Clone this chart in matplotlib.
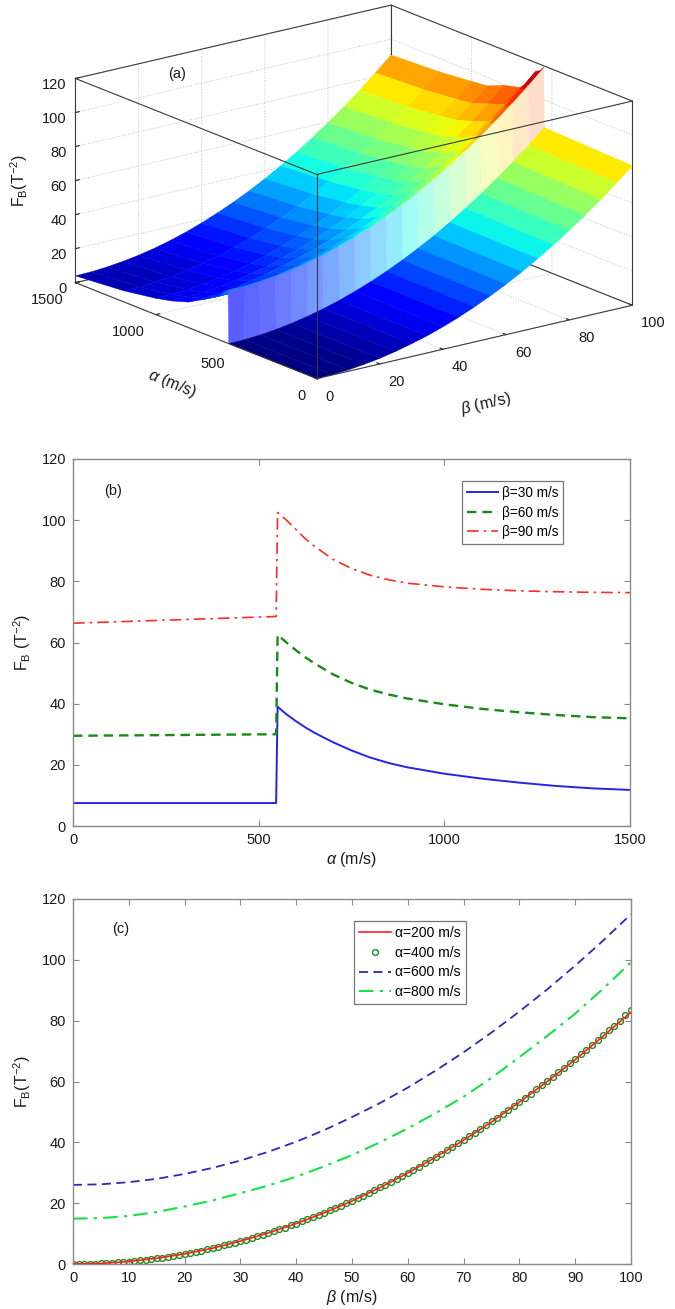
import numpy as np
import matplotlib
matplotlib.use('Agg')
import matplotlib.pyplot as plt
from matplotlib import cm
from mpl_toolkits.mplot3d import proj3d

# ---------------- data ----------------
# surface (a): rows = alpha (m/s), columns = beta (m/s)
surf_beta = [0, 5, 10, 15, 20, 25, 30, 35, 40, 45, 50, 55, 60, 65, 70, 75, 80, 85, 90, 95, 100]
surf_alpha = [0, 547, 551, 575, 600, 650, 700, 800, 900, 1000, 1200, 1500]
F_a0 = [0, 0.2, 0.8, 1.9, 3.3, 5.2, 7.5, 10.1, 13.2, 16.7, 20.6, 24.9, 29.6, 34.7, 40.3, 46.2, 52.6, 59.3, 66.4, 74.0, 82.0]
F_a547 = [0, 0.2, 0.8, 1.9, 3.4, 5.3, 7.6, 10.3, 13.5, 17.0, 21.0, 25.4, 30.2, 35.4, 41.1, 47.2, 53.7, 60.6, 68.0, 75.7, 83.9]
F_a551 = [31.2, 31.4, 32.1, 33.2, 34.7, 36.7, 39.1, 42.0, 45.3, 49.0, 53.2, 57.8, 62.9, 68.4, 74.3, 80.7, 87.5, 94.8, 102.5, 110.6, 119.2]
F_a575 = [29.2, 29.4, 30.1, 31.2, 32.7, 34.6, 37.0, 39.9, 43.1, 46.8, 51.0, 55.5, 60.5, 66.0, 71.8, 78.1, 84.9, 92.1, 99.7, 107.7, 116.2]
F_a600 = [26.0, 26.2, 26.9, 28.0, 29.6, 31.6, 34.0, 36.9, 40.2, 44.0, 48.3, 52.9, 58.0, 63.6, 69.6, 76.1, 83.0, 90.3, 98.1, 106.3, 115.0]
F_a650 = [23.0, 23.2, 23.8, 24.9, 26.3, 28.2, 30.5, 33.2, 36.3, 39.9, 43.8, 48.2, 53.0, 58.2, 63.8, 69.9, 76.3, 83.2, 90.5, 98.2, 106.3]
F_a700 = [20.2, 20.4, 21.0, 22.0, 23.5, 25.3, 27.5, 30.2, 33.2, 36.7, 40.6, 44.9, 49.5, 54.6, 60.1, 66.0, 72.4, 79.1, 86.2, 93.8, 101.7]
F_a800 = [14.9, 15.1, 15.8, 17.1, 18.9, 20.9, 23.3, 25.8, 28.7, 32.1, 35.8, 40.0, 44.6, 49.6, 55.0, 61.2, 68.0, 75.0, 82.3, 90.5, 99.2]
F_a900 = [11.8, 12.0, 12.6, 13.7, 15.1, 17.0, 19.3, 22.0, 25.1, 28.7, 32.6, 37.0, 41.8, 47.0, 52.6, 58.7, 65.1, 72.0, 79.3, 87.0, 95.1]
F_a1000 = [9.6, 9.8, 10.4, 11.5, 13.0, 14.9, 17.2, 19.9, 23.1, 26.7, 30.7, 35.1, 40.0, 45.3, 51.0, 57.1, 63.6, 70.6, 78.0, 85.8, 94.0]
F_a1200 = [6.5, 6.7, 7.4, 8.4, 9.9, 11.9, 14.2, 17.0, 20.2, 23.8, 27.9, 32.4, 37.3, 42.7, 48.4, 54.7, 61.3, 68.4, 75.8, 83.8, 92.1]
F_a1500 = [4.0, 4.2, 4.9, 6.0, 7.5, 9.4, 11.8, 14.6, 17.9, 21.6, 25.7, 30.2, 35.2, 40.6, 46.5, 52.8, 59.5, 66.6, 74.2, 82.3, 90.7]

# panel (b): F_B along alpha for three beta values
b_alpha = [0, 547, 551, 575, 600, 625, 650, 700, 750, 800, 850, 900, 1000, 1100, 1200, 1300, 1400, 1500]
b_F30 = [7.5, 7.5, 39.0, 36.5, 34.3, 32.3, 30.5, 27.4, 24.7, 22.4, 20.6, 19.2, 17.1, 15.5, 14.2, 13.1, 12.3, 11.8]
b_F60 = [29.5, 30.0, 62.5, 60.0, 57.5, 55.2, 53.2, 49.6, 46.8, 44.6, 43.0, 41.7, 39.8, 38.3, 37.2, 36.3, 35.6, 35.2]
b_F90 = [66.3, 68.5, 102.5, 100.0, 97.0, 94.0, 91.5, 87.2, 84.2, 82.0, 80.5, 79.4, 78.2, 77.4, 76.9, 76.6, 76.4, 76.3]
b_labels = ['β=30 m/s', 'β=60 m/s', 'β=90 m/s']

# panel (c): F_B along beta for four alpha values
c_beta = [0, 5, 10, 15, 20, 25, 30, 35, 40, 45, 50, 55, 60, 65, 70, 75, 80, 85, 90, 95, 100]
c_F200 = [0, 0.2, 0.8, 1.9, 3.3, 5.2, 7.5, 10.2, 13.3, 16.8, 20.7, 25.1, 29.9, 35.1, 40.7, 46.7, 53.2, 60.0, 67.2, 74.9, 82.8]
c_beta_400 = list(range(0, 101))
c_F400 = [0.0, 0.0, 0.0, 0.1, 0.1, 0.2, 0.3, 0.4, 0.5, 0.7,
          0.8, 1.0, 1.2, 1.4, 1.6, 1.9, 2.1, 2.4, 2.7, 3.0,
          3.3, 3.7, 4.0, 4.4, 4.8, 5.2, 5.6, 6.1, 6.5, 7.0,
          7.5, 8.0, 8.5, 9.1, 9.6, 10.2, 10.8, 11.4, 12.0, 12.7,
          13.3, 14.0, 14.7, 15.4, 16.1, 16.9, 17.6, 18.4, 19.2, 20.0,
          20.8, 21.7, 22.5, 23.4, 24.3, 25.2, 26.1, 27.1, 28.0, 29.0,
          30.0, 31.0, 32.0, 33.1, 34.1, 35.2, 36.3, 37.4, 38.5, 39.7,
          40.8, 42.0, 43.2, 44.4, 45.6, 46.9, 48.1, 49.4, 50.7, 52.0,
          53.3, 54.7, 56.0, 57.4, 58.8, 60.2, 61.6, 63.1, 64.5, 66.0,
          67.5, 69.0, 70.5, 72.1, 73.6, 75.2, 76.8, 78.4, 80.0, 81.7,
          83.6]
c_F600 = F_a600
c_F800 = F_a800
c_labels = ['α=200 m/s', 'α=400 m/s', 'α=600 m/s', 'α=800 m/s']

# ---------------- style ----------------
plt.rcParams['font.family'] = ['Liberation Sans', 'DejaVu Sans']
plt.rcParams['mathtext.fontset'] = 'custom'
plt.rcParams['mathtext.rm'] = 'Liberation Sans'
plt.rcParams['mathtext.it'] = 'Liberation Sans:italic'
plt.rcParams['mathtext.bf'] = 'Liberation Sans:bold'
plt.rcParams['grid.color'] = '#c4c4c4'
plt.rcParams['grid.linestyle'] = ':'
plt.rcParams['grid.linewidth'] = 0.7

W, H = 675, 1309
fig = plt.figure(figsize=(W / 100, H / 100), dpi=100)
TXT = '#1a1a1a'
FRAME = '#8a8a8a'

# ---------------- panel (a): 3D surface ----------------
ax3 = fig.add_axes([0.0, 0.66, 1.0, 0.34], projection='3d', computed_zorder=False)
ax3.patch.set_alpha(0)
ax3.set_proj_type('ortho')
ax3.view_init(elev=17.7, azim=-127.4)
bz = 0.545
ax3.set_box_aspect((1, 1, bz))

rows = [F_a0, F_a547, F_a551, F_a575, F_a600, F_a650, F_a700, F_a800,
        F_a900, F_a1000, F_a1200, F_a1500]
Z = np.array(rows, dtype=float)
Bg, Ag = np.meshgrid(np.array(surf_beta, float), np.array(surf_alpha, float))
face_mean = (Z[:-1, :-1] + Z[1:, :-1] + Z[:-1, 1:] + Z[1:, 1:]) / 4.0
norm = plt.Normalize(0, Z.max())
fc = cm.jet(norm(face_mean))
# the jump wall between alpha=547 and 551 is rendered pale (light streaks in the reference)
wall = surf_alpha.index(547)
mix = np.linspace(0.35, 0.8, fc.shape[1])[:, None]
fc[wall] = (1 - mix) * fc[wall] + mix * np.array([1, 1, 1, 1.0])
fcol = np.ones(Z.shape + (4,))
fcol[:-1, :-1] = fc
surf = ax3.plot_surface(Bg, Ag, Z, facecolors=fcol, rstride=1, cstride=1,
                        linewidth=0.3, antialiased=True, shade=False, zorder=2)
surf.set_edgecolor(fc.reshape(-1, 4))

ax3.set_xlim(0, 100)
ax3.set_ylim(0, 1500)
ax3.set_zlim(0, 120)
ax3.set_xticks([0, 20, 40, 60, 80, 100])
ax3.set_yticks([0, 500, 1000, 1500])
ax3.set_zticks([0, 20, 40, 60, 80, 100, 120])

for axis in (ax3.xaxis, ax3.yaxis, ax3.zaxis):
    axis.set_pane_color((1, 1, 1, 0))
    axis.pane.set_edgecolor((0, 0, 0, 0))
    axis.line.set_color((0, 0, 0, 0))
    axis._axinfo['grid'].update(color='#c4c4c4', linestyle=':', linewidth=0.7)
    axis._axinfo['tick']['inward_factor'] = 0.0
    axis._axinfo['tick']['outward_factor'] = 0.15
    axis._axinfo['tick']['color'] = '#444444'
ax3.tick_params(labelsize=10.5, colors=TXT, pad=0)
ax3.zaxis.set_tick_params(pad=-4.5)
for t in ax3.yaxis.get_major_ticks():
    t.label1.set_horizontalalignment('right')
for t in ax3.xaxis.get_major_ticks():
    t.label1.set_horizontalalignment('left')
for t in ax3.zaxis.get_major_ticks():
    t.label1.set_horizontalalignment('right')

x0, x1 = ax3.get_xlim()
y0, y1 = ax3.get_ylim()
z0, z1 = ax3.get_zlim()
back_edges = [((x0, x1), (y1, y1), (z0, z0)), ((x1, x1), (y0, y1), (z0, z0)),
              ((x1, x1), (y1, y1), (z0, z1))]
front_edges = [((x0, x1), (y0, y0), (z0, z0)), ((x0, x0), (y0, y1), (z0, z0)),
               ((x0, x0), (y0, y0), (z0, z1)), ((x1, x1), (y0, y0), (z0, z1)),
               ((x0, x0), (y1, y1), (z0, z1)),
               ((x0, x1), (y0, y0), (z1, z1)), ((x0, x0), (y0, y1), (z1, z1)),
               ((x0, x1), (y1, y1), (z1, z1)), ((x1, x1), (y0, y1), (z1, z1))]
for e in back_edges:
    ax3.plot(*e, color='#3a3a3a', lw=0.8, zorder=1)
for e in front_edges:
    ax3.plot(*e, color='#3a3a3a', lw=0.8, zorder=3)

# fit the projected box to the reference position
corners = [(0, 1500, 0), (100, 0, 0), (0, 0, 0), (0, 1500, 120)]
T = np.array([[75.5, 282.0], [632.0, 306.0], [317.0, 379.0], [75.5, 78.0]])


def proj_px(ax, pts):
    M = ax.get_proj()
    out = []
    for (x, y, z) in pts:
        xs, ys, _ = proj3d.proj_transform(x, y, z, M)
        dx, dy = ax.transData.transform((xs, ys))
        out.append((dx, H - dy))
    return np.array(out)


for it in range(4):
    fig.canvas.draw()
    P = proj_px(ax3, corners)
    if it == 0:
        cur_ratio = (P[0, 1] - P[3, 1]) / (P[1, 0] - P[0, 0])
        tgt_ratio = (T[0, 1] - T[3, 1]) / (T[1, 0] - T[0, 0])
        bz *= tgt_ratio / cur_ratio
        ax3.set_box_aspect((1, 1, bz))
        continue
    pos = ax3.get_position()
    C0 = np.array([(pos.x0 + pos.x1) / 2 * W, H - (pos.y0 + pos.y1) / 2 * H])
    S0 = pos.width * W
    D = P - C0
    Dm = D.mean(axis=0)
    Tm = T.mean(axis=0)
    r = np.sum((D - Dm) * (T - Tm)) / np.sum((D - Dm) ** 2)
    C1 = Tm - r * Dm
    S1 = S0 * r
    ax3.set_position([(C1[0] - S1 / 2) / W, 1 - (C1[1] + S1 / 2) / H, S1 / W, S1 / H])

# axis titles of the 3D panel, aligned with the projected axes
fig.text(172 / W, 1 - 384 / H, r'$\alpha$ (m/s)', rotation=-22, ha='center', va='center',
         fontsize=11.5, color=TXT, rotation_mode='anchor')
fig.text(486 / W, 1 - 404 / H, r'$\beta$ (m/s)', rotation=13, ha='center', va='center',
         fontsize=11.5, color=TXT, rotation_mode='anchor')
fig.text(19 / W, 1 - 181 / H, r'F$_\mathrm{B}$(T$^{-2}$)', rotation=90, ha='center', va='center',
         fontsize=11.5, color=TXT)
fig.text(177 / W, 1 - 74 / H, '(a)', ha='center', va='center', fontsize=10.5, color=TXT)


# ---------------- helper for 2D panels ----------------
def style2d(ax):
    for s in ax.spines.values():
        s.set_color(FRAME)
        s.set_linewidth(1.0)
    ax.tick_params(direction='in', length=4, width=0.8, color=FRAME,
                   top=True, right=True, labelsize=10.5, labelcolor=TXT, pad=5)


# ---------------- panel (b) ----------------
axb = fig.add_axes([73 / W, 1 - 826 / H, 557 / W, 367 / H])
axb.plot(b_alpha, b_F30, color='#2424e6', lw=1.4, label=b_labels[0])
axb.plot(b_alpha, b_F60, color='#178a17', lw=1.7, ls=(0, (4, 2.5)), label=b_labels[1])
axb.plot(b_alpha, b_F90, color='#ff2a2a', lw=1.2, ls=(0, (7, 3, 1.5, 3)), label=b_labels[2])
axb.set_xlim(0, 1500)
axb.set_ylim(0, 120)
axb.set_xticks([0, 500, 1000, 1500])
axb.set_yticks([0, 20, 40, 60, 80, 100, 120])
style2d(axb)
axb.set_xlabel(r'$\alpha$ (m/s)', fontsize=11.5, color=TXT, labelpad=2)
axb.set_ylabel(r'F$_\mathrm{B}$ (T$^{-2}$)', fontsize=11.5, color=TXT, labelpad=6)
axb.text(0.072, 0.913, '(b)', transform=axb.transAxes, ha='center', va='center',
         fontsize=10.5, color=TXT)
lb = axb.legend(loc='upper left', bbox_to_anchor=(0.698, 0.94), fontsize=9.8,
                frameon=True, fancybox=False, edgecolor='#777777', framealpha=1,
                handlelength=2.3, handletextpad=0.3, labelspacing=0.42,
                borderpad=0.35, borderaxespad=0)
lb.get_frame().set_linewidth(0.9)

# ---------------- panel (c) ----------------
axc = fig.add_axes([73 / W, 1 - 1264 / H, 558 / W, 365 / H])
axc.plot(c_beta, c_F200, color='#ff2020', lw=1.2, label=c_labels[0], zorder=3)
axc.plot(c_beta_400, c_F400, ls='none', marker='o', ms=4.2, mfc='none', mec='#1f8a1f',
         mew=1.0, label=c_labels[1], zorder=2)
axc.plot(c_beta, c_F600, color='#2b2bb8', lw=1.3, ls=(0, (5, 3)), label=c_labels[2])
axc.plot(c_beta, c_F800, color='#16e04a', lw=1.5, ls=(0, (7, 3, 1.5, 3)), label=c_labels[3])
axc.set_xlim(0, 100)
axc.set_ylim(0, 120)
axc.set_xticks(list(range(0, 101, 10)))
axc.set_yticks([0, 20, 40, 60, 80, 100, 120])
style2d(axc)
axc.set_xlabel(r'$\beta$ (m/s)', fontsize=11.5, color=TXT, labelpad=2)
axc.set_ylabel(r'F$_\mathrm{B}$(T$^{-2}$)', fontsize=11.5, color=TXT, labelpad=6)
axc.text(0.086, 0.918, '(c)', transform=axc.transAxes, ha='center', va='center',
         fontsize=10.5, color=TXT)
lc = axc.legend(loc='upper left', bbox_to_anchor=(0.504, 0.94), fontsize=10,
                frameon=True, fancybox=False, edgecolor='#777777', framealpha=1,
                handlelength=2.3, handletextpad=0.3, labelspacing=0.42,
                borderpad=0.35, borderaxespad=0)
lc.get_frame().set_linewidth(0.9)

fig.savefig('out.png', dpi=100, facecolor='white')
